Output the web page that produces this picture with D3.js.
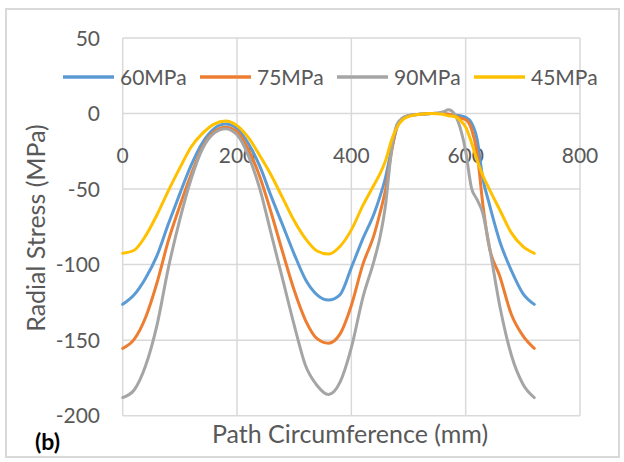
<!DOCTYPE html>
<html>
<head>
<meta charset="utf-8">
<script src="https://cdn.jsdelivr.net/npm/d3@7"></script>
<style>
  body { margin: 0; background: #fff; }
  text { font-family: Lato, "Liberation Sans", sans-serif; fill: #595959; }
</style>
</head>
<body>
<div id="chart"></div>
<script>
// path position (mm), shared by all series
const pathMm = [0, 20, 40, 60, 80, 100, 120, 140, 160, 180, 200, 220, 240, 260, 280, 300, 320, 340, 360,
  380, 400, 420, 440, 450, 460, 470, 480, 490, 500, 520, 540, 560, 570, 580, 590, 600, 610, 620, 630,
  640, 660, 680, 700, 720];

const s60 = [-126.3, -120, -109, -94, -73, -53, -34, -19, -10, -7, -10, -20, -35, -55, -74, -93, -110, -120, -123.5,
  -120, -102, -83, -66, -55, -42, -24, -9, -3, -1.5, -0.5, 0, 0, -0.5, -1, -1.5, -2.5, -6, -17, -43,
  -58, -85, -104, -119, -126.3];
const s75 = [-155.4, -149.5, -135, -112, -84, -61, -40, -22, -12, -9, -12, -24, -42, -66, -92, -117, -137, -149, -152,
  -146, -127, -100, -80, -66, -50, -26, -8, -3, -1.5, -0.5, 0, 0, -0.5, -1, -3, -4, -10, -26, -60,
  -86, -108, -133, -147, -155.4];
const s90 = [-188, -183, -167, -140, -102, -70, -43, -23, -13, -10, -14, -28, -50, -80, -110, -140, -167, -180, -186,
  -178, -155, -122, -97, -82, -60, -25, -7, -3, -1.5, -0.5, 0, 1, 2.5, 0, -9, -25, -49, -57, -66,
  -85, -128, -160, -179, -188];
const s45 = [-92.5, -90.5, -81, -67, -51, -36, -22, -13, -7, -5, -8, -16, -28, -41, -56, -71, -83, -91, -93,
  -88, -77, -61, -47, -40, -31, -18, -9, -4, -2, -0.5, 0, -0.5, -1.5, -2, -4.3, -9, -19, -31, -41,
  -49, -64, -79, -88, -92.5];

const seriesNames = ["60MPa", "75MPa", "90MPa", "45MPa"];
const seriesValues = [s60, s75, s90, s45];
const colors = ["#5B9BD5", "#ED7D31", "#A5A5A5", "#FFC000"];

const xTicks = [0, 200, 400, 600, 800];
const yTicks = [50, 0, -50, -100, -150, -200];

const W = 624, H = 462;
const svg = d3.select("#chart").append("svg")
  .attr("width", W).attr("height", H);

// outer chart frame
svg.append("rect")
  .attr("x", 6).attr("y", 9).attr("width", 613).attr("height", 448)
  .attr("fill", "#fff").attr("stroke", "#d9d9d9").attr("stroke-width", 2);

const x = d3.scaleLinear().domain([0, 800]).range([122.7, 580]);
const y = d3.scaleLinear().domain([-200, 50]).range([415.7, 38]);

// gridlines
svg.append("g").selectAll("line").data(yTicks).join("line")
  .attr("x1", x(0)).attr("x2", x(800))
  .attr("y1", d => y(d)).attr("y2", d => y(d))
  .attr("stroke", "#d9d9d9").attr("stroke-width", 1.5);
svg.append("g").selectAll("line").data(xTicks).join("line")
  .attr("x1", d => x(d)).attr("x2", d => x(d))
  .attr("y1", y(50)).attr("y2", y(-200))
  .attr("stroke", "#d9d9d9").attr("stroke-width", 1.5);

// y tick labels
svg.append("g").selectAll("text").data(yTicks).join("text")
  .attr("x", 100).attr("y", d => y(d)).attr("dy", "0.36em")
  .attr("text-anchor", "end").style("font-size", "21px")
  .text(d => d);

// x tick labels, sitting under the y=0 line
svg.append("g").selectAll("text").data(xTicks).join("text")
  .attr("x", d => x(d)).attr("y", 163)
  .attr("text-anchor", "middle").style("font-size", "21px")
  .text(d => d);

// lines
const line = d3.line()
  .x((d, i) => x(pathMm[i]))
  .y(d => y(d))
  .curve(d3.curveMonotoneX);

svg.append("g").selectAll("path").data(seriesValues).join("path")
  .attr("d", d => line(d))
  .attr("fill", "none")
  .attr("stroke", (d, i) => colors[i])
  .attr("stroke-width", 3)
  .attr("stroke-linejoin", "round")
  .attr("stroke-linecap", "round");

// legend
const legend = svg.append("g").selectAll("g").data(seriesNames).join("g")
  .attr("transform", (d, i) => `translate(${63 + i * 137}, 77)`);
legend.append("rect")
  .attr("x", 0).attr("y", -2).attr("width", 51).attr("height", 4)
  .attr("fill", "#fff");
legend.append("line")
  .attr("x1", 0).attr("x2", 51)
  .attr("stroke", (d, i) => colors[i]).attr("stroke-width", 3.5);
legend.append("text")
  .attr("x", 57).attr("dy", "0.36em")
  .style("font-size", "21px")
  .text(d => d);

// axis titles
svg.append("text")
  .attr("x", 350).attr("y", 443)
  .attr("text-anchor", "middle").style("font-size", "25px")
  .text("Path Circumference (mm)");
svg.append("text")
  .attr("transform", "translate(45, 228) rotate(-90)")
  .attr("text-anchor", "middle").style("font-size", "25px")
  .text("Radial Stress (MPa)");

svg.append("text")
  .attr("x", 35).attr("y", 450)
  .style("font-size", "23px").style("font-weight", "bold").style("fill", "#000")
  .text("(b)");
</script>
</body>
</html>
